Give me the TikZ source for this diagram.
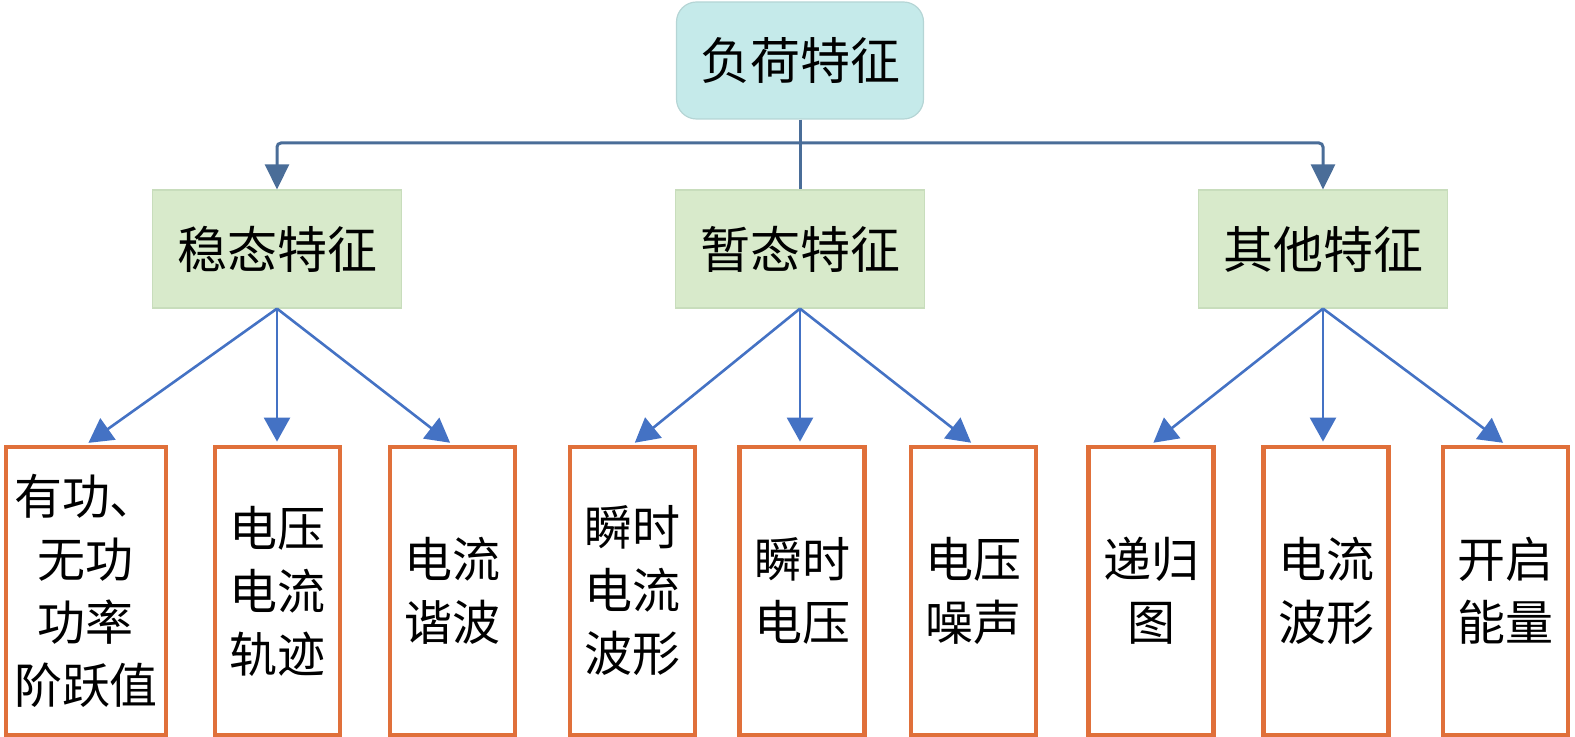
\documentclass[tikz,border=0pt]{standalone}
\usepackage{fontspec}
\setmainfont{Noto Sans CJK SC}
\usepackage{tikz}
\usetikzlibrary{arrows.meta}

\definecolor{rootfill}{HTML}{C5EAEA}
\definecolor{rootline}{HTML}{B5D5D5}
\definecolor{catfill}{HTML}{D8EACB}
\definecolor{catline}{HTML}{C8DDBC}
\definecolor{leafline}{HTML}{E0703A}
\definecolor{topblue}{HTML}{4A6D98}
\definecolor{arrowblue}{HTML}{4472C4}

\begin{document}
\begin{tikzpicture}[x=0.5pt, y=-0.5pt,
        rootbox/.style={draw=rootline, fill=rootfill, rounded corners=10pt, line width=.6pt,
            minimum width=123.5pt, minimum height=58.5pt, font=\fontsize{25}{30}\selectfont},
        catbox/.style={draw=catline, fill=catfill, line width=.6pt,
            minimum width=124.5pt, minimum height=59pt, font=\fontsize{25}{30}\selectfont},
        leafbox/.style={draw=leafline, line width=2.4pt, minimum width=62.5pt, minimum height=144pt,
            align=center, inner sep=0pt, font=\fontsize{24}{31.5}\selectfont},
        toplink/.style={draw=topblue, line width=1.5pt},
        leaflink/.style={draw=arrowblue, line width=1.3pt, shorten >=1.5pt,
            -{Triangle[length=12pt, width=13pt]}}]
        \useasboundingbox (0,0) rectangle (1575,737);

        \node[rootbox] at (800, 60.5) (load) {负荷特征};

        \node[catbox] at (277, 249)  (steady) {稳态特征};
        \node[catbox] at (800, 249)  (trans)  {暂态特征};
        \node[catbox] at (1323, 249) (other)  {其他特征};

        \node[leafbox, minimum width=80pt] at (86, 591) (s1) {有功、\\无功\\功率\\阶跃值};
        \node[leafbox] at (277.5, 591)  (s2) {电压\\电流\\轨迹};
        \node[leafbox] at (452.5, 591)  (s3) {电流\\谐波};
        \node[leafbox] at (632.5, 591)  (t1) {瞬时\\电流\\波形};
        \node[leafbox] at (802, 591)    (t2) {瞬时\\电压};
        \node[leafbox] at (973.5, 591)  (t3) {电压\\噪声};
        \node[leafbox] at (1151, 591)   (o1) {递归\\图};
        \node[leafbox] at (1326, 591)   (o2) {电流\\波形};
        \node[leafbox] at (1505.5, 591) (o3) {开启\\能量};

        % tree from the root
        \coordinate (split) at (800, 143);
        \draw[toplink] (load.south) -- (trans.north);
        \draw[toplink, rounded corners=2pt, -{Triangle[length=12.5pt, width=12pt]}] (split) -| (steady.north);
        \draw[toplink, rounded corners=2pt, -{Triangle[length=12.5pt, width=12pt]}] (split) -| (other.north);

        % leaves
        \foreach \cat/\a/\b/\c in {steady/s1/s2/s3, trans/t1/t2/t3, other/o1/o2/o3} {
            \draw[leaflink] (\cat.south) -- (\a.north);
            \draw[leaflink] (\cat.south) -- (\cat.south |- \b.north);
            \draw[leaflink] (\cat.south) -- (\c.north);
        }
    \end{tikzpicture}
\end{document}
